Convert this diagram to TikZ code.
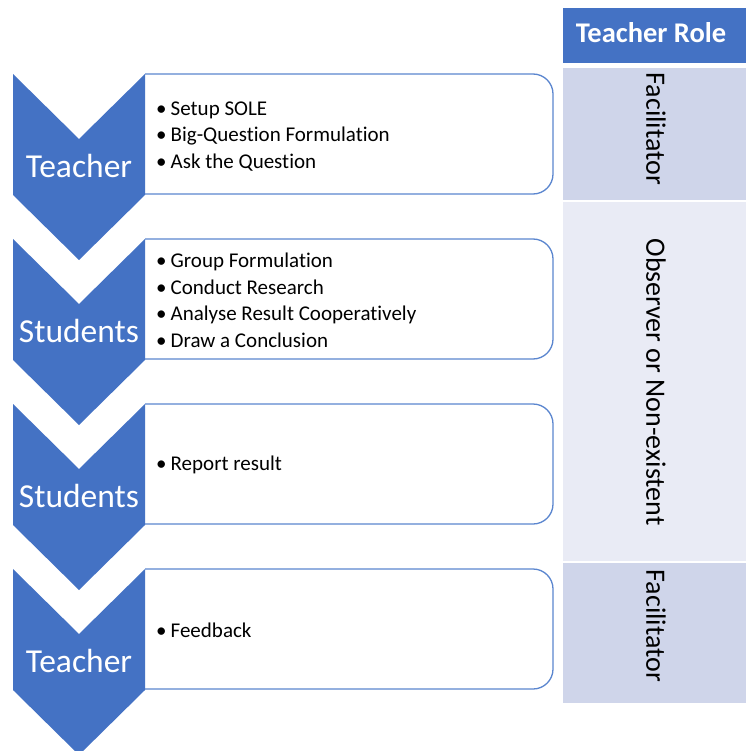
\documentclass[tikz,border=0pt]{standalone}
\usepackage{fontspec}
\setmainfont[Ligatures=NoCommon]{Carlito}
\definecolor{cblue}{HTML}{4472C4}
\definecolor{boxline}{HTML}{5B86CF}
\definecolor{facfill}{HTML}{CFD5EA}
\definecolor{obsfill}{HTML}{E9EBF5}
\begin{document}
\begin{tikzpicture}[x=1pt,y=-1pt,
  chev/.style={fill=cblue,draw=none},
  stepbox/.style={draw=boxline,line width=1.3pt,fill=white,rounded corners=20pt},
  chevlabel/.style={text=white,font=\fontsize{33.5}{36}\selectfont,inner sep=0pt},
  bullets/.style={align=left,anchor=west,inner sep=0pt,font=\fontsize{21}{26.5}\selectfont},
  roletext/.style={rotate=-90,inner sep=0pt,font=\fontsize{28}{30}\selectfont}
]
\useasboundingbox (0,0) rectangle (746,751);
\newcommand{\bul}{\makebox[14.5pt][l]{•}}
% boxes and chevrons
\foreach \i in {0,1,2,3}{
  \pgfmathsetmacro{\yo}{74+165*\i}
  \draw[stepbox] (145,\yo) -| (553,\yo+120) -- (145,\yo+120);
  \fill[chev] (13,\yo) -- (79,\yo+65) -- (145,\yo) -- (145,\yo+121) -- (79,\yo+186) -- (13,\yo+121) -- cycle;
}
\node[chevlabel] (c1) at (79,166) {Teacher};
\node[chevlabel] (c2) at (79,331) {Students};
\node[chevlabel] (c3) at (79,496) {Students};
\node[chevlabel] (c4) at (79,661) {Teacher};
\node[bullets] (b1) at (156,136.5) {\bul Setup SOLE\\\bul Big-Question Formulation\\\bul Ask the Question};
\node[bullets] (b2) at (156,300.5) {\bul Group Formulation\\\bul Conduct Research\\\bul Analyse Result Cooperatively\\\bul Draw a Conclusion};
\node[bullets] (b3) at (156,465) {\bul Report result};
\node[bullets] (b4) at (156,630) {\bul Feedback};
% right column
\fill[cblue] (563,8) rectangle (746,63);
\node[text=white,font=\bfseries\fontsize{28.5}{30}\selectfont,inner sep=0pt] (hdr) at (651,33) {Teacher Role};
\fill[facfill] (563,68) rectangle (746,200);
\fill[obsfill] (563,202) rectangle (746,561);
\fill[facfill] (563,563) rectangle (746,703);
\node[roletext] (r1) at (656,129) {Facilitator};
\node[roletext] (r2) at (656,382) {Observer or Non-existent};
\node[roletext] (r3) at (656,626) {Facilitator};
\end{tikzpicture}
\end{document}
